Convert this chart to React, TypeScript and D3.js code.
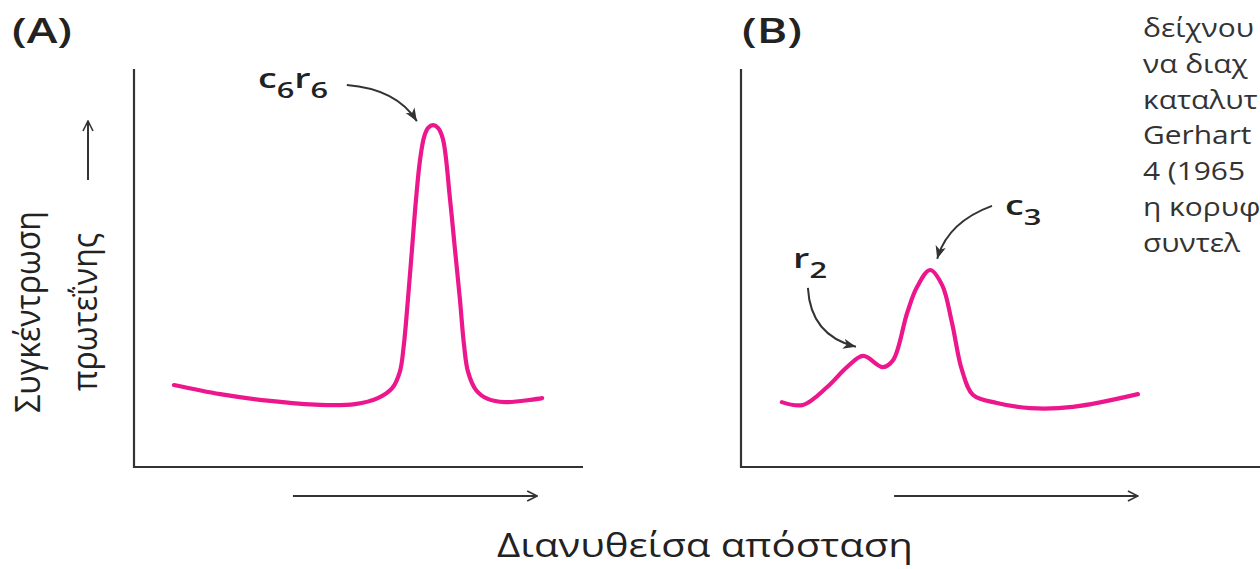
import React from 'react';
import * as d3 from 'd3';

// elution profiles, distance (0-100) vs protein concentration (0-100)
const distA = [8.9, 19.2, 30.3, 41.4, 49.2, 54.3, 57.5, 59.2, 60.1, 61.0, 61.9, 62.8, 63.7, 64.6, 65.5, 66.6, 67.7, 68.8, 70.4, 71.5, 72.6, 73.5, 74.4, 76.2, 78.8, 82.6, 90.9];
const concA = [20.6, 18.3, 16.6, 15.6, 15.8, 17.3, 19.8, 23.9, 30.7, 42.0, 54.5, 67.1, 77.1, 82.9, 85.2, 85.9, 85.2, 82.4, 67.1, 54.5, 42.0, 30.7, 23.9, 19.3, 17.1, 16.3, 17.3];

const distB = [9.1, 13.8, 19.2, 23.6, 27.2, 31.6, 33.9, 37.0, 39.2, 42.1, 44.8, 47.0, 49.2, 51.7, 57.0, 64.4, 73.9, 88.4];
const concB = [16.3, 15.6, 20.1, 25.1, 27.9, 25.1, 26.9, 38.7, 45.2, 49.5, 45.7, 36.2, 24.4, 18.1, 16.1, 14.8, 15.1, 18.3];

const panelLabels = ['(A)', '(B)'];
const yTitle = ['Συγκέντρωση', 'πρωτεΐνης'];
const xTitle = 'Διανυθείσα απόσταση';
// caption column, cut by the right edge of the figure
const sideText = ['δείχνου', 'να διαχ', 'καταλυτ', 'Gerhart', '4 (1965', 'η κορυφ', 'συντελ'];

// peak annotations: label, label pos, arrow start / control / end (data units)
const annA = [
  { main: ['c', 'r'], sub: ['6', '6'], at: [27.6, 95.2], from: [47.4, 96.0], ctrl: [58.5, 95.0], to: [63.0, 86.9] },
];
const annB = [
  { main: ['c'], sub: ['3'], at: [58.8, 63.3], from: [55.9, 65.6], ctrl: [46.0, 61.5], to: [43.7, 52.3] },
  { main: ['r'], sub: ['2'], at: [11.6, 50.0], from: [14.9, 45.0], ctrl: [15.5, 33.0], to: [25.6, 30.2] },
];

const W = 1260;
const H = 569;
const FONT = '"Open Sans", "Noto Sans", sans-serif';
const PINK = '#ec178c';
const INK = '#333';
const SX = 1.15; // the figure is drawn wide

const Panel = ({ x0, axisEnd, arrow, labelX, dist, conc, anns, label }) => {
  const x = d3.scaleLinear().domain([0, 100]).range([x0, x0 + 449]);
  const y = d3.scaleLinear().domain([0, 100]).range([467, 69]);
  const line = d3.line().x(d => x(d[0])).y(d => y(d[1])).curve(d3.curveCatmullRom.alpha(0.5));
  const pts = dist.map((d, i) => [d, conc[i]]);
  return (
    <g>
      <text x={labelX} y={43} fontSize={34} fontWeight={600} fill="#222" fontFamily={FONT}
        textLength={60} lengthAdjust="spacingAndGlyphs">{label}</text>
      <path d={`M${x0},${y(100)}V${y(0)}H${axisEnd}`} fill="none" stroke={INK} strokeWidth={2.2} />
      <line x1={x(arrow[0])} x2={x(arrow[1])} y1={496} y2={496} stroke={INK} strokeWidth={2} markerEnd="url(#head)" />
      <path d={line(pts)} fill="none" stroke={PINK} strokeWidth={4.2} strokeLinecap="round" />
      {anns.map((a, i) => {
        const p = d3.path();
        p.moveTo(x(a.from[0]), y(a.from[1]));
        p.quadraticCurveTo(x(a.ctrl[0]), y(a.ctrl[1]), x(a.to[0]), y(a.to[1]));
        return (
          <g key={i}>
            <path d={p.toString()} fill="none" stroke={INK} strokeWidth={2} markerEnd="url(#tip)" />
            <text transform={`translate(${x(a.at[0])},${y(a.at[1])}) scale(1.4,1)`} fontSize={27} fontWeight={600} fill="#222" fontFamily={FONT}>
              {a.main.map((m, j) => (
                <React.Fragment key={j}>
                  <tspan dy={j === 0 ? 0 : -10}>{m}</tspan>
                  <tspan dy={10} fontSize={22}>{a.sub[j]}</tspan>
                </React.Fragment>
              ))}
            </text>
          </g>
        );
      })}
    </g>
  );
};

export default function App() {
  return (
    <svg width={W} height={H} style={{ position: 'absolute', left: 0, top: 0, background: '#fff' }}>
      <defs>
        <marker id="head" viewBox="0 0 12 12" refX={11} refY={6} markerWidth={12} markerHeight={12} markerUnits="userSpaceOnUse" orient="auto">
          <path d="M1,1 L11,6 L1,11" fill="none" stroke={INK} strokeWidth={1.6} />
        </marker>
        <marker id="tip" viewBox="0 0 12 12" refX={11} refY={6} markerWidth={14} markerHeight={14} markerUnits="userSpaceOnUse" orient="auto">
          <path d="M0,1.5 L11,6 L0,10.5 L3,6 Z" fill={INK} />
        </marker>
      </defs>
      <rect width={W} height={H} fill="#fff" />
      <Panel x0={134} axisEnd={583} arrow={[35.4, 89.8]} labelX={12} dist={distA} conc={concA} anns={annA} label={panelLabels[0]} />
      <Panel x0={741} axisEnd={1262} arrow={[34.1, 88.4]} labelX={742} dist={distB} conc={concB} anns={annB} label={panelLabels[1]} />
      <line x1={88} x2={88} y1={180} y2={121} stroke={INK} strokeWidth={2} markerEnd="url(#head)" />
      <g fontFamily={FONT} fontSize={32} fill="#222" textAnchor="middle">
        <text transform={`translate(40,312) scale(1.1,1) rotate(-90)`}>{yTitle[0]}</text>
        <text transform={`translate(97,312) scale(1.1,1) rotate(-90)`}>{yTitle[1]}</text>
        <text x={705} y={557} textLength={416} lengthAdjust="spacingAndGlyphs">{xTitle}</text>
      </g>
      <g fontFamily={FONT} fontSize={26} fill="#333" transform={`translate(1143,0) scale(${SX},1)`}>
        {sideText.map((s, i) => (
          <text key={i} x={0} y={37 + i * 35.8}>{s}</text>
        ))}
      </g>
    </svg>
  );
}
